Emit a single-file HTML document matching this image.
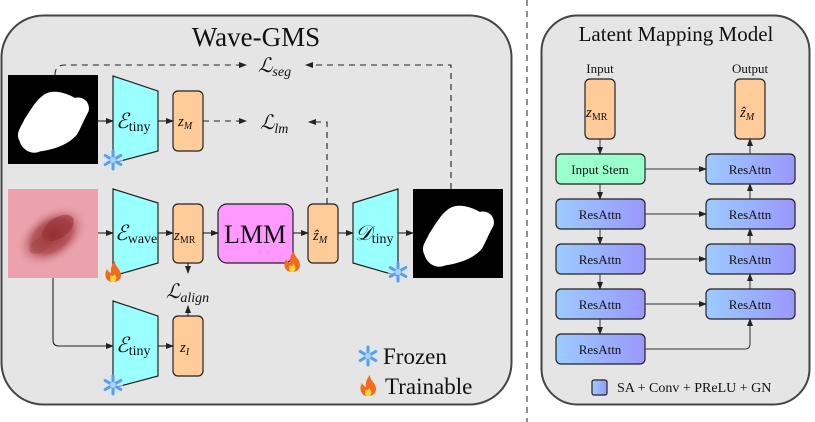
<!DOCTYPE html>
<html><head><meta charset="utf-8"><style>
html,body{margin:0;padding:0;background:#fff}
svg{display:block}
text{font-family:"Liberation Serif","DejaVu Serif",serif;fill:#111}
.m{font-style:italic}
</style></head><body>
<svg width="815" height="422" viewBox="0 0 815 422" xmlns="http://www.w3.org/2000/svg">
<defs>
<linearGradient id="bg" x1="0" x2="1" y1="0" y2="0"><stop offset="0" stop-color="#9ccbff"/><stop offset="1" stop-color="#9a98fb"/></linearGradient>
<marker id="a" markerWidth="8" markerHeight="6" refX="7" refY="3" orient="auto" markerUnits="userSpaceOnUse"><path d="M0,0 L8,3 L0,6 Z" fill="#222"/></marker>
<radialGradient id="les" cx="0.5" cy="0.5" r="0.5"><stop offset="0" stop-color="#9a3438"/><stop offset="0.55" stop-color="#b5585c"/><stop offset="1" stop-color="#e8a3ad" stop-opacity="0"/></radialGradient>
<g id="snow"><circle r="10" fill="#cfe6ff" opacity="0.6"/><g stroke="#5a9ee8" stroke-width="3" stroke-linecap="round"><line x1="0" y1="-9" x2="0" y2="9"/><line x1="-7.8" y1="-4.5" x2="7.8" y2="4.5"/><line x1="-7.8" y1="4.5" x2="7.8" y2="-4.5"/></g><circle r="3" fill="#a9d0ff"/></g>
<g id="fire"><path d="M0,10 C-8,10 -9,2 -6,-3 C-5,0 -2,1 -2,1 C-3,-4 0,-9 2,-11 C2,-5 8,-3 8,3 C8,8 4,10 0,10 Z" fill="#f26a1b"/><path d="M0,10 C-3,10 -4,6 -2,3 C-1,5 1,4 1,2 C3,4 4,6 3,8 C2,10 1,10 0,10 Z" fill="#ffd23f"/></g>
<path id="blob" d="M30,15 C38,8 50,12 58,17 C66,15 72,22 70,30 C66,38 64,44 60,52 C52,62 40,66 28,68 C20,72 12,66 10,58 C6,50 12,44 14,38 C20,28 24,20 30,15 Z" fill="#fff"/>
</defs>

<rect x="1.5" y="15.5" width="510" height="389" rx="42" fill="#e5e5e5" stroke="#444" stroke-width="2"/>
<rect x="541.5" y="15.5" width="268" height="389" rx="36" fill="#e5e5e5" stroke="#444" stroke-width="2"/>
<line x1="527" y1="0" x2="527" y2="422" stroke="#222" stroke-width="1" stroke-dasharray="6,5"/>

<text x="256" y="46" font-size="27" text-anchor="middle">Wave-GMS</text>

<rect x="8" y="75" width="90" height="89" fill="#000"/>
<use href="#blob" transform="translate(8,80) scale(1.15,1.05)"/>
<rect x="413" y="189" width="90" height="89" fill="#000"/>
<use href="#blob" transform="translate(413,194) scale(1.15,1.05)"/>

<rect x="8" y="189" width="90" height="89" fill="#eba2ad"/>
<ellipse cx="52" cy="236" rx="40" ry="26" transform="rotate(-35 52 236)" fill="url(#les)"/>
<ellipse cx="58" cy="228" rx="18" ry="10" transform="rotate(-35 58 228)" fill="#8f2a30" opacity="0.5"/>
<ellipse cx="40" cy="245" rx="12" ry="7" transform="rotate(-35 40 245)" fill="#a04040" opacity="0.4"/>

<polygon points="113,76 158,91 158,151 113,163" fill="#99ffff" stroke="#222" stroke-width="1.2"/>
<polygon points="113,189 158,203 158,263 113,276" fill="#99ffff" stroke="#222" stroke-width="1.2"/>
<polygon points="113,301 158,316 158,376 113,388" fill="#99ffff" stroke="#222" stroke-width="1.2"/>
<polygon points="353,203 398,189 398,276 353,263" fill="#99ffff" stroke="#222" stroke-width="1.2"/>
<text x="116" y="128" font-size="21" class="m">ℰ<tspan font-size="14" font-style="normal" dy="3">tiny</tspan></text>
<text x="115" y="240" font-size="21" class="m">ℰ<tspan font-size="14" font-style="normal" dy="3">wave</tspan></text>
<text x="116" y="352" font-size="21" class="m">ℰ<tspan font-size="14" font-style="normal" dy="3">tiny</tspan></text>
<text x="355" y="240" font-size="21" class="m">𝒟<tspan font-size="14" font-style="normal" dy="3">tiny</tspan></text>

<rect x="173" y="91" width="30" height="60" rx="5" fill="#ffcc99" stroke="#222" stroke-width="1.2"/>
<rect x="173" y="204" width="30" height="59" rx="5" fill="#ffcc99" stroke="#222" stroke-width="1.2"/>
<rect x="173" y="316" width="30" height="60" rx="5" fill="#ffcc99" stroke="#222" stroke-width="1.2"/>
<rect x="308" y="204" width="30" height="59" rx="5" fill="#ffcc99" stroke="#222" stroke-width="1.2"/>
<text x="178" y="126" font-size="15" class="m">z<tspan font-size="10" dy="3">M</tspan></text>
<text x="174" y="240" font-size="15" class="m">z<tspan font-size="10" font-style="normal" dy="3">MR</tspan></text>
<text x="180" y="352" font-size="15" class="m">z<tspan font-size="10" dy="3">I</tspan></text>
<text x="313" y="240" font-size="15" class="m">ẑ<tspan font-size="10" dy="3">M</tspan></text>

<rect x="218" y="204" width="75" height="59" rx="9" fill="#ff99ff" stroke="#222" stroke-width="1.2"/>
<text x="255" y="243" font-size="26" text-anchor="middle">LMM</text>

<g stroke="#222" stroke-width="1.1" fill="none" marker-end="url(#a)">
<line x1="98" y1="121" x2="113" y2="121"/>
<line x1="158" y1="121" x2="173" y2="121"/>
<line x1="98" y1="233" x2="113" y2="233"/>
<line x1="158" y1="233" x2="173" y2="233"/>
<line x1="203" y1="233" x2="218" y2="233"/>
<line x1="293" y1="233" x2="308" y2="233"/>
<line x1="338" y1="233" x2="353" y2="233"/>
<line x1="398" y1="233" x2="413" y2="233"/>
<line x1="188" y1="263" x2="188" y2="273"/>
<line x1="188" y1="316" x2="188" y2="306"/>
<line x1="158" y1="346" x2="173" y2="346"/>
<path d="M53,278 L53,340 Q53,346 59,346 L113,346"/>
</g>
<g stroke="#222" stroke-width="1.1" fill="none" stroke-dasharray="6,5" marker-end="url(#a)">
<path d="M55,75 Q55,65 65,65 L246,65"/>
<path d="M451,189 L451,65 L306,65"/>
<line x1="203" y1="121" x2="246" y2="121"/>
<path d="M327,204 L327,122 L309,122"/>
</g>
<text x="258" y="72" font-size="20" class="m">ℒ<tspan font-size="14" dy="4">seg</tspan></text>
<text x="260" y="129" font-size="20" class="m">ℒ<tspan font-size="14" dy="4">lm</tspan></text>
<text x="166" y="298" font-size="20" class="m">ℒ<tspan font-size="14" dy="4">align</tspan></text>

<use href="#snow" x="113" y="160"/>
<use href="#snow" x="113" y="385"/>
<use href="#snow" x="398" y="272"/>
<use href="#fire" x="113" y="272"/>
<use href="#fire" x="292" y="262"/>
<use href="#snow" x="368" y="356"/>
<use href="#fire" x="368" y="386"/>
<text x="383" y="364" font-size="23">Frozen</text>
<text x="385" y="394" font-size="23">Trainable</text>

<text x="676" y="41" font-size="21" text-anchor="middle">Latent Mapping Model</text>
<text x="600" y="73" font-size="13" text-anchor="middle">Input</text>
<text x="750" y="73" font-size="13" text-anchor="middle">Output</text>
<rect x="585" y="79" width="30" height="60" rx="5" fill="#ffcc99" stroke="#222" stroke-width="1.2"/>
<rect x="735" y="79" width="30" height="60" rx="5" fill="#ffcc99" stroke="#222" stroke-width="1.2"/>
<text x="586" y="117" font-size="15" class="m">z<tspan font-size="10" font-style="normal" dy="3">MR</tspan></text>
<text x="740" y="117" font-size="15" class="m">ẑ<tspan font-size="10" dy="3">M</tspan></text>

<rect x="556" y="154" width="89" height="30" rx="5" fill="#99ffcc" stroke="#222" stroke-width="1.2"/>
<text x="600" y="174" font-size="13" text-anchor="middle">Input Stem</text>
<g stroke="#222" stroke-width="1.2" fill="url(#bg)">
<rect x="556" y="199" width="89" height="30" rx="5"/>
<rect x="556" y="244" width="89" height="30" rx="5"/>
<rect x="556" y="289" width="89" height="30" rx="5"/>
<rect x="556" y="334" width="89" height="30" rx="5"/>
<rect x="706" y="154" width="89" height="30" rx="5"/>
<rect x="706" y="199" width="89" height="30" rx="5"/>
<rect x="706" y="244" width="89" height="30" rx="5"/>
<rect x="706" y="289" width="89" height="30" rx="5"/>
<rect x="592" y="380" width="15" height="15" rx="2"/>
</g>
<g font-size="13" text-anchor="middle">
<text x="600" y="219">ResAttn</text><text x="600" y="264">ResAttn</text><text x="600" y="309">ResAttn</text><text x="600" y="354">ResAttn</text>
<text x="750" y="174">ResAttn</text><text x="750" y="219">ResAttn</text><text x="750" y="264">ResAttn</text><text x="750" y="309">ResAttn</text>
</g>
<text x="617" y="392" font-size="14">SA + Conv + PReLU + GN</text>
<g stroke="#333" stroke-width="1" fill="none" marker-end="url(#a)">
<line x1="600" y1="139" x2="600" y2="154"/>
<line x1="600" y1="184" x2="600" y2="199"/>
<line x1="600" y1="229" x2="600" y2="244"/>
<line x1="600" y1="274" x2="600" y2="289"/>
<line x1="600" y1="319" x2="600" y2="334"/>
<line x1="645" y1="169" x2="706" y2="169"/>
<line x1="645" y1="214" x2="706" y2="214"/>
<line x1="645" y1="259" x2="706" y2="259"/>
<line x1="645" y1="304" x2="706" y2="304"/>
<path d="M645,349 L745,349 Q750,349 750,344 L750,319"/>
<line x1="750" y1="289" x2="750" y2="274"/>
<line x1="750" y1="244" x2="750" y2="229"/>
<line x1="750" y1="199" x2="750" y2="184"/>
<line x1="750" y1="154" x2="750" y2="139"/>
</g>
</svg>
</body></html>
